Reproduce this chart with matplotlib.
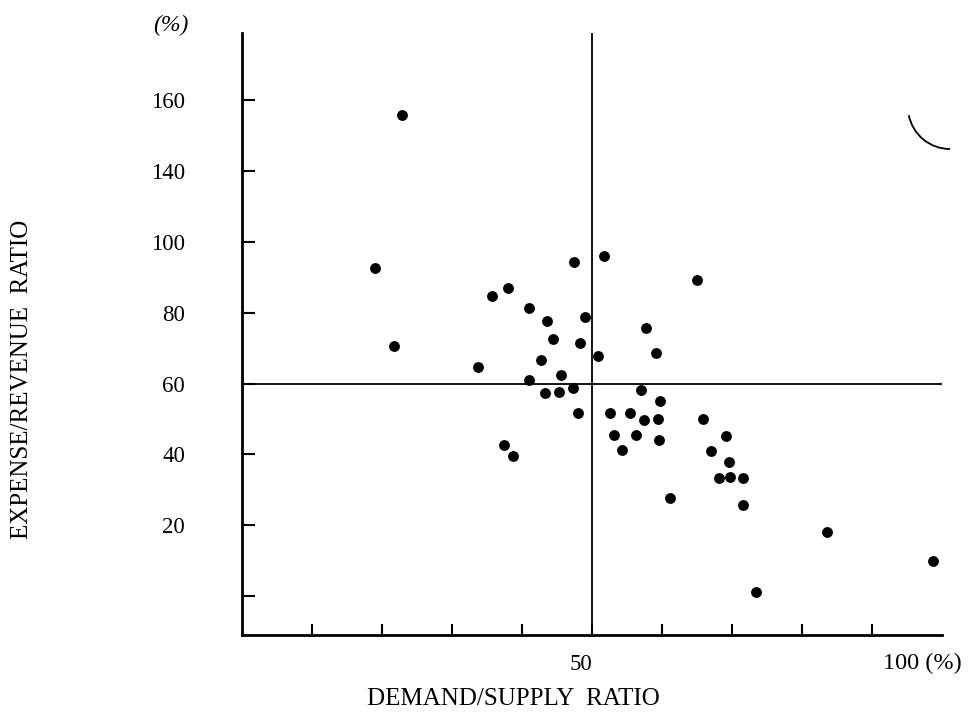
import matplotlib.pyplot as plt
from matplotlib.patches import Arc

# Demand/supply ratio (%) and expense/revenue ratio (%)
demand_supply = [22.9, 19.0, 21.7, 33.7, 35.7, 38.0, 41.0, 43.6, 44.4, 42.7,
                 41.0, 43.3, 45.3, 45.6, 47.3, 48.0, 47.4, 49.0, 48.3, 50.9,
                 51.7, 37.4, 38.7, 52.6, 53.1, 54.3, 55.4, 56.3, 57.0, 57.4,
                 59.4, 59.6, 59.7, 57.7, 59.1, 61.1, 65.0, 65.9, 67.0, 69.1,
                 69.6, 68.1, 69.7, 71.6, 71.6, 73.4, 83.6, 98.7]
expense_revenue = [135.9, 92.7, 70.6, 64.7, 84.7, 87.0, 81.4, 77.7, 72.6, 66.7,
                   61.0, 57.3, 57.6, 62.4, 58.8, 51.7, 94.4, 78.8, 71.5, 67.8,
                   96.0, 42.7, 39.5, 51.7, 45.5, 41.2, 51.7, 45.5, 58.2, 49.7,
                   50.0, 44.1, 55.1, 75.7, 68.6, 27.7, 89.3, 50.0, 41.0, 45.2,
                   37.9, 33.3, 33.6, 33.3, 25.7, 1.1, 18.1, 9.9]

# tick positions on the vertical axis and the labels printed next to them
y_ticks = [0, 20, 40, 60, 80, 100, 120, 140]
y_tick_labels = ['', '20', '40', '60', '80', '100', '140', '160']
x_ticks = [10, 20, 30, 40, 50, 60, 70, 80, 90]

plt.rcParams['font.family'] = ['Liberation Serif', 'DejaVu Serif']

fig = plt.figure(figsize=(9.77, 7.23), dpi=100)
ax = fig.add_axes([242 / 977, 1 - 635 / 723, 700 / 977, 602 / 723])

ax.scatter(demand_supply, expense_revenue, s=46, color='black', zorder=3)

# reference lines
ax.axhline(60, color='black', lw=1.3)
ax.axvline(50, color='black', lw=1.3)

ax.set_xlim(0, 100)
ax.set_ylim(-11, 159)

for side in ['top', 'right']:
    ax.spines[side].set_visible(False)
for side in ['left', 'bottom']:
    ax.spines[side].set_linewidth(2.0)

ax.set_yticks(y_ticks)
ax.set_yticklabels(y_tick_labels, fontsize=16.5)
ax.yaxis.set_tick_params(direction='in', length=9, width=1.5, pad=41)
ax.set_xticks(x_ticks)
ax.set_xticklabels([])
ax.xaxis.set_tick_params(direction='in', length=8, width=1.5)

# x-axis value labels
ax.annotate('50', xy=(50, 0), xycoords=('data', 'axes fraction'),
            xytext=(0, -30), textcoords='offset pixels',
            ha='right', va='center', fontsize=16.5)
ax.annotate('100 (%)', xy=(91.6, 0), xycoords=('data', 'axes fraction'),
            xytext=(0, -28), textcoords='offset pixels',
            ha='left', va='center', fontsize=17.5)
fig.text(171 / 977, 1 - 25 / 723, '(%)', ha='center', va='center',
         fontsize=17, style='italic')

fig.text(513 / 977, 1 - 699 / 723, 'DEMAND/SUPPLY  RATIO',
         ha='center', va='center', fontsize=18)
fig.text(22 / 977, 1 - 379 / 723, 'EXPENSE/REVENUE  RATIO',
         ha='center', va='center', fontsize=18, rotation=90)

# scan mark at upper right
fig.add_artist(Arc((950 / 977, 1 - 107 / 723), 84 / 977, 84 / 723,
                   theta1=195, theta2=270, transform=fig.transFigure,
                   color='black', lw=1.3))

plt.savefig('out.png', dpi=100)
